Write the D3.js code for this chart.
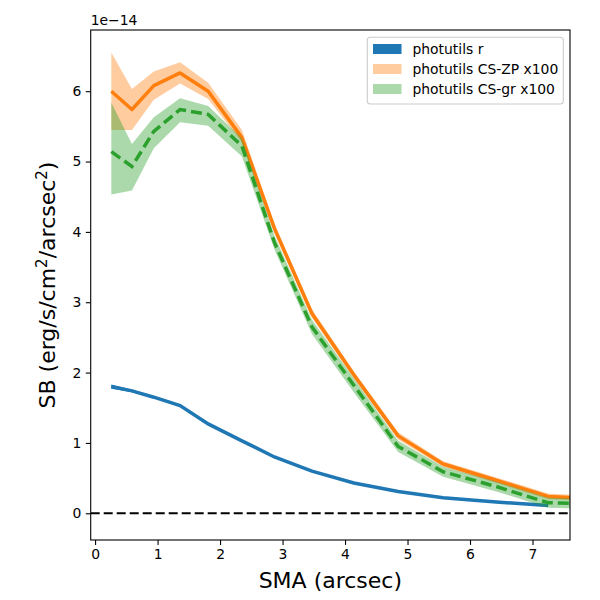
<!DOCTYPE html>
<html>
<head>
<meta charset="utf-8">
<script src="https://cdn.jsdelivr.net/npm/d3@7"></script>
<style>
  body { margin: 0; background: #fff; }
  text { font-family: "DejaVu Sans", sans-serif; }
</style>
</head>
<body>
<div id="chart"></div>
<script>
// SB profiles, in units of 1e-14 erg/s/cm^2/arcsec^2
const sma = [0.26, 0.59, 0.94, 1.36, 1.81, 2.35, 2.87, 3.47, 4.14, 4.85, 5.57, 6.42, 7.25, 8.1];

const rMid = [1.80, 1.74, 1.65, 1.53, 1.27, 1.03, 0.80, 0.60, 0.43, 0.31, 0.22, 0.16, 0.11];
const rLo  = [1.77, 1.72, 1.64, 1.52, 1.26, 1.02, 0.79, 0.59, 0.42, 0.30, 0.21, 0.15, 0.10];
const rHi  = [1.83, 1.76, 1.66, 1.54, 1.28, 1.04, 0.81, 0.61, 0.44, 0.32, 0.23, 0.17, 0.12];

const zpMid = [6.00, 5.74, 6.08, 6.26, 6.00, 5.34, 4.05, 2.84, 1.97, 1.10, 0.70, 0.47, 0.24, 0.20];
const zpLo  = [5.45, 5.45, 5.88, 6.11, 5.89, 5.27, 3.98, 2.78, 1.92, 1.05, 0.66, 0.43, 0.20, 0.17];
const zpHi  = [6.55, 6.03, 6.28, 6.41, 6.12, 5.45, 4.12, 2.90, 2.02, 1.15, 0.74, 0.51, 0.28, 0.24];

const grMid = [5.14, 4.93, 5.43, 5.74, 5.67, 5.22, 3.85, 2.65, 1.82, 0.95, 0.59, 0.38, 0.15, 0.13];
const grLo  = [4.53, 4.59, 5.19, 5.56, 5.51, 5.07, 3.75, 2.55, 1.72, 0.87, 0.52, 0.31, 0.08, 0.06];
const grHi  = [5.84, 5.25, 5.63, 5.90, 5.79, 5.33, 3.95, 2.75, 1.92, 1.03, 0.66, 0.45, 0.22, 0.20];

const xTicks = [0, 1, 2, 3, 4, 5, 6, 7];
const yTicks = [0, 1, 2, 3, 4, 5, 6];
const legendLabels = ["photutils r", "photutils CS-ZP x100", "photutils CS-gr x100"];

const W = 600, H = 600;
const mLeft = 90.7, mRight = 570, mTop = 30, mBottom = 540;

const svg = d3.select("#chart").append("svg")
    .attr("width", W).attr("height", H);

const x = d3.scaleLinear().domain([-0.07, 7.6]).range([mLeft, mRight]);
const y = d3.scaleLinear().domain([-0.38, 6.87]).range([mBottom, mTop]);

svg.append("clipPath").attr("id", "clip")
    .append("rect")
    .attr("x", mLeft).attr("y", mTop)
    .attr("width", mRight - mLeft).attr("height", mBottom - mTop);

const plot = svg.append("g").attr("clip-path", "url(#clip)");

function band(lo, hi) {
    const pts = lo.map((d, i) => ({ x: sma[i], lo: d, hi: hi[i] }));
    return d3.area().x(d => x(d.x)).y0(d => y(d.lo)).y1(d => y(d.hi))(pts);
}
function line(vals) {
    return d3.line().x((d, i) => x(sma[i])).y(d => y(d))(vals);
}

// zero line
plot.append("line")
    .attr("x1", mLeft).attr("x2", mRight)
    .attr("y1", y(0)).attr("y2", y(0))
    .attr("stroke", "black").attr("stroke-width", 2)
    .attr("stroke-dasharray", "9,4");

// photutils r
plot.append("path").attr("d", band(rLo, rHi))
    .attr("fill", "#1f77b4");
plot.append("path").attr("d", line(rMid))
    .attr("fill", "none").attr("stroke", "#1f77b4").attr("stroke-width", 3.5);

// CS-ZP
plot.append("path").attr("d", band(zpLo, zpHi))
    .attr("fill", "#ff7f0e").attr("fill-opacity", 0.4);
plot.append("path").attr("d", line(zpMid))
    .attr("fill", "none").attr("stroke", "#ff7f0e").attr("stroke-width", 3.5)
    .attr("stroke-linejoin", "round");

// CS-gr
plot.append("path").attr("d", band(grLo, grHi))
    .attr("fill", "#2ca02c").attr("fill-opacity", 0.4);
plot.append("path").attr("d", line(grMid))
    .attr("fill", "none").attr("stroke", "#2ca02c").attr("stroke-width", 3.5)
    .attr("stroke-dasharray", "11,5");

// axes
const xAxis = svg.append("g")
    .attr("transform", `translate(0,${mBottom})`)
    .call(d3.axisBottom(x).tickValues(xTicks).tickSize(4.9).tickPadding(4.5).tickFormat(d3.format("d")));
const yAxis = svg.append("g")
    .attr("transform", `translate(${mLeft},0)`)
    .call(d3.axisLeft(y).tickValues(yTicks).tickSize(4.9).tickPadding(4.5).tickFormat(d3.format("d")));
[xAxis, yAxis].forEach(a => {
    a.select(".domain").remove();
    a.selectAll(".tick line").attr("stroke", "black").attr("stroke-width", 1.1);
    a.selectAll(".tick text")
        .attr("font-family", "DejaVu Sans").attr("font-size", 13.9).attr("fill", "black");
});

// frame
svg.append("rect")
    .attr("x", mLeft).attr("y", mTop)
    .attr("width", mRight - mLeft).attr("height", mBottom - mTop)
    .attr("fill", "none").attr("stroke", "black").attr("stroke-width", 1.1);

// offset text
svg.append("text")
    .attr("x", mLeft).attr("y", 25)
    .attr("font-size", 13.9)
    .text("1e\u221214");

// axis labels
svg.append("text")
    .attr("x", (mLeft + mRight) / 2).attr("y", 588)
    .attr("text-anchor", "middle")
    .attr("font-size", 22)
    .text("SMA (arcsec)");

const yl = svg.append("text")
    .attr("transform", `translate(55,${(mTop + mBottom) / 2}) rotate(-90)`)
    .attr("text-anchor", "middle")
    .attr("font-size", 22);
yl.append("tspan").text("SB (erg/s/cm");
yl.append("tspan").attr("font-size", 15).attr("dy", -8).text("2");
yl.append("tspan").attr("dy", 8).text("/arcsec");
yl.append("tspan").attr("font-size", 15).attr("dy", -8).text("2");
yl.append("tspan").attr("dy", 8).text(")");

// legend
const legendColors = ["#1f77b4", "#ff7f0e", "#2ca02c"];
const legendAlpha = [1, 0.4, 0.4];
const lg = svg.append("g");
lg.append("rect")
    .attr("x", 367.3).attr("y", 37.3)
    .attr("width", 196).attr("height", 66.7)
    .attr("rx", 3)
    .attr("fill", "white").attr("fill-opacity", 0.8)
    .attr("stroke", "#cccccc").attr("stroke-width", 1.1);
legendLabels.forEach((lab, i) => {
    const cy = 49 + i * 20;
    lg.append("rect")
        .attr("x", 373).attr("y", cy - 5)
        .attr("width", 28.5).attr("height", 10)
        .attr("fill", legendColors[i]).attr("fill-opacity", legendAlpha[i]);
    lg.append("text")
        .attr("x", 412.5).attr("y", cy + 5)
        .attr("font-size", 13.9)
        .text(lab);
});
</script>
</body>
</html>
